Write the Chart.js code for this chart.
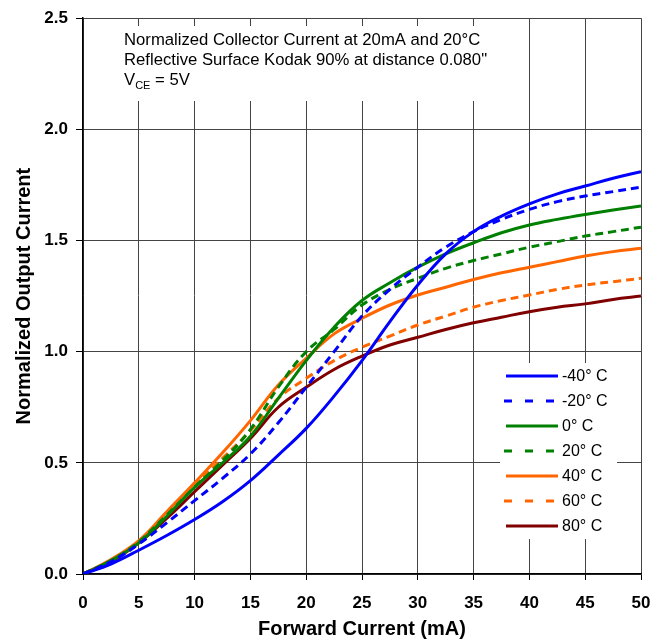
<!DOCTYPE html>
<html>
<head>
<meta charset="utf-8">
<script src="https://cdn.jsdelivr.net/npm/chart.js@4.4.1/dist/chart.umd.min.js"></script>
<style>
html,body{margin:0;padding:0;background:#fff;}
#wrap{width:665px;height:641px;position:relative;}
</style>
</head>
<body>
<div id="wrap"><canvas id="c"></canvas></div>
<script>
const forwardCurrent = [0, 2.5, 5, 7.5, 10, 12.5, 15, 17.5, 20, 22.5, 25, 27.5, 30, 32.5, 35, 37.5, 40, 42.5, 45, 47.5, 50];
const tempLabels = ['-40° C', '-20° C', '0° C', '20° C', '40° C', '60° C', '80° C'];
const tM40 = [0, 0.045, 0.107, 0.173, 0.245, 0.325, 0.42, 0.535, 0.655, 0.80, 0.96, 1.135, 1.30, 1.44, 1.54, 1.61, 1.665, 1.71, 1.745, 1.78, 1.81];
const tM20 = [0, 0.055, 0.135, 0.23, 0.33, 0.43, 0.54, 0.68, 0.84, 1.00, 1.16, 1.28, 1.38, 1.47, 1.54, 1.595, 1.64, 1.675, 1.70, 1.72, 1.74];
const t0   = [0, 0.06, 0.14, 0.26, 0.39, 0.50, 0.62, 0.79, 0.96, 1.11, 1.23, 1.31, 1.38, 1.44, 1.49, 1.535, 1.57, 1.595, 1.617, 1.637, 1.655];
const t20  = [0, 0.06, 0.145, 0.265, 0.39, 0.51, 0.65, 0.84, 1.00, 1.10, 1.21, 1.28, 1.33, 1.375, 1.41, 1.44, 1.47, 1.495, 1.52, 1.54, 1.56];
const t40  = [0, 0.065, 0.15, 0.28, 0.41, 0.545, 0.69, 0.85, 0.97, 1.08, 1.15, 1.21, 1.255, 1.29, 1.325, 1.355, 1.38, 1.405, 1.43, 1.45, 1.465];
const t60  = [0, 0.06, 0.145, 0.27, 0.40, 0.52, 0.645, 0.79, 0.88, 0.96, 1.02, 1.07, 1.12, 1.16, 1.20, 1.23, 1.255, 1.28, 1.30, 1.315, 1.33];
const t80  = [0, 0.055, 0.14, 0.25, 0.37, 0.49, 0.61, 0.75, 0.84, 0.92, 0.98, 1.03, 1.065, 1.10, 1.13, 1.155, 1.18, 1.20, 1.215, 1.235, 1.25];
const seriesValues = [tM40, tM20, t0, t20, t40, t60, t80];
const seriesColors = ['#0000FF', '#0000FF', '#008000', '#008000', '#FF6600', '#FF6600', '#800000'];
const seriesDashed = [false, true, false, true, false, true, false];
const xTicks = [0, 5, 10, 15, 20, 25, 30, 35, 40, 45, 50];
const yTicks = [0, 0.5, 1.0, 1.5, 2.0, 2.5];
const noteLines = ['Normalized Collector Current at 20mA and 20°C', 'Reflective Surface Kodak 90% at distance 0.080"'];

const FONT = '"Liberation Sans", Arial, Helvetica, sans-serif';

const datasets = seriesValues.map((vals, i) => ({
  label: tempLabels[i],
  data: forwardCurrent.map((x, j) => ({x: x, y: vals[j]})),
  borderColor: seriesColors[i],
  backgroundColor: seriesColors[i],
  borderWidth: 3,
  borderDash: seriesDashed[i] ? [8, 5] : [],
  pointRadius: 0,
  fill: false,
  tension: 0.4
}));

const overlayPlugin = {
  id: 'overlay',
  beforeDatasetsDraw(chart) {
    const ctx = chart.ctx;
    ctx.save();
    ctx.fillStyle = '#fff';
    ctx.fillRect(116, 26, 384, 75);
    ctx.fillRect(500, 363, 117, 176);
    ctx.restore();
  },
  afterDraw(chart) {
    const ctx = chart.ctx;
    ctx.save();
    ctx.fillStyle = '#000';
    ctx.textBaseline = 'alphabetic';
    ctx.textAlign = 'left';
    ctx.font = '16.7px ' + FONT;
    ctx.fillText(noteLines[0], 124, 45);
    ctx.fillText(noteLines[1], 124, 65);
    ctx.fillText('V', 124, 85);
    let w = ctx.measureText('V').width;
    ctx.font = '11px ' + FONT;
    ctx.fillText('CE', 124 + w, 89);
    let w2 = ctx.measureText('CE').width;
    ctx.font = '16.7px ' + FONT;
    ctx.fillText(' = 5V', 124 + w + w2, 85);
    // legend
    chart.data.datasets.forEach((ds, i) => {
      const y = 376 + 25 * i;
      ctx.strokeStyle = ds.borderColor;
      ctx.lineWidth = 3;
      ctx.setLineDash(seriesDashed[i] ? [8, 13] : []);
      ctx.beginPath();
      if (seriesDashed[i]) { ctx.moveTo(504, y); ctx.lineTo(556, y); }
      else { ctx.moveTo(506, y); ctx.lineTo(558, y); }
      ctx.stroke();
      ctx.setLineDash([]);
      ctx.fillStyle = '#000';
      ctx.font = '16px ' + FONT;
      ctx.textBaseline = 'middle';
      ctx.fillText(ds.label, 562, y + 1);
    });
    ctx.restore();
  }
};

new Chart(document.getElementById('c'), {
  type: 'line',
  data: { datasets: datasets },
  plugins: [overlayPlugin],
  options: {
    responsive: true,
    maintainAspectRatio: false,
    animation: false,
    layout: { padding: { left: 0, top: 12, right: 24, bottom: 0 } },
    plugins: { legend: { display: false }, tooltip: { enabled: false } },
    scales: {
      x: {
        type: 'linear', min: 0, max: 50,
        afterBuildTicks(scale) { scale.ticks = xTicks.map(v => ({value: v})); },
        afterFit(scale) { scale.height = 67; },
        ticks: { color: '#000', font: { family: FONT, size: 17, weight: 'bold' }, padding: 13, maxRotation: 0 },
        grid: { color: '#444', lineWidth: 1, tickLength: 6, tickColor: '#000' },
        border: { color: '#000', width: 1.5 },
        title: { display: true, text: 'Forward Current (mA)', color: '#000', font: { family: FONT, size: 20, weight: 'bold' }, padding: { top: 0, bottom: 0 } }
      },
      y: {
        type: 'linear', min: 0, max: 2.5,
        afterBuildTicks(scale) { scale.ticks = yTicks.map(v => ({value: v})); },
        afterFit(scale) { scale.width = 83; },
        ticks: { color: '#000', font: { family: FONT, size: 17, weight: 'bold' }, padding: 8, callback: v => Number(v).toFixed(1) },
        grid: { color: '#444', lineWidth: 1, tickLength: 7, tickColor: '#000' },
        border: { color: '#000', width: 1.5 },
        title: { display: true, text: 'Normalized Output Current', color: '#000', font: { family: FONT, size: 20, weight: 'bold' }, padding: { top: 12, bottom: 0 } }
      }
    }
  }
});
</script>
</body>
</html>
